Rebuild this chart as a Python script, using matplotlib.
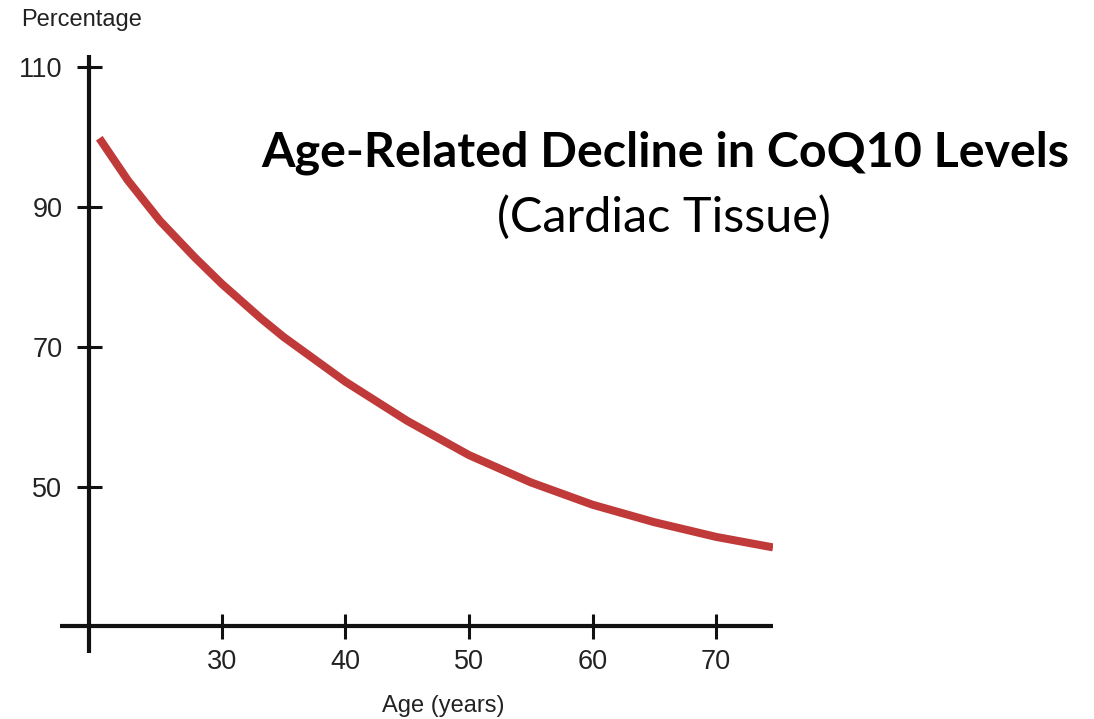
import matplotlib
matplotlib.use("Agg")
import matplotlib.pyplot as plt

# values
ages = [20.1, 22.4, 25, 27.8, 30, 33.2, 35, 40, 45, 50, 55, 60, 65, 70, 74.6]
coq10_pct = [99.8, 93.8, 88.0, 82.8, 79.0, 74.0, 71.4, 65.0, 59.4, 54.5,
             50.6, 47.4, 44.9, 42.8, 41.3]

x_ticks = [30, 40, 50, 60, 70]
y_ticks = [50, 70, 90, 110]

title = "Age-Related Decline in CoQ10 Levels"
subtitle = "(Cardiac Tissue)"

LINE_RED = "#C13A3A"
INK = "#111111"
LABEL_FONT = ["Liberation Sans", "DejaVu Sans"]
TITLE_FONT = ["Lato", "DejaVu Sans"]

fig = plt.figure(figsize=(10.94, 7.19), dpi=100)
ax = fig.add_axes([60 / 1094, 1 - 653 / 719, 713 / 1094, 598 / 719])
ax.patch.set_alpha(0)

ax.plot(ages, coq10_pct, color=LINE_RED, lw=5.8, solid_capstyle="butt",
        solid_joinstyle="round", zorder=3)

ax.set_xlim(16.92, 74.6)
ax.set_ylim(26.2, 111.7)

# crossing axis lines
for side in ("top", "right"):
    ax.spines[side].set_visible(False)
ax.spines["left"].set_position(("data", 19.29))
ax.spines["bottom"].set_position(("data", 30))
for side in ("left", "bottom"):
    ax.spines[side].set_linewidth(3.0)
    ax.spines[side].set_color(INK)
    ax.spines[side].set_capstyle("butt")

ax.set_xticks(x_ticks)
ax.set_yticks(y_ticks)
ax.tick_params(axis="both", direction="inout", length=18, width=2.2,
               color=INK, labelsize=19.5, labelcolor="#222222")
ax.tick_params(axis="y", pad=10.4)
ax.tick_params(axis="x", pad=7.0)
for lab in ax.get_xticklabels() + ax.get_yticklabels():
    lab.set_family(LABEL_FONT)

ax.set_xlabel("Age (years)", fontsize=17, family=LABEL_FONT, color="#222222", va="center")
ax.xaxis.set_label_coords(0.537, -0.0886)
ax.set_ylabel("Percentage", fontsize=17, family=LABEL_FONT, color="#222222",
              rotation=0, ha="left", va="center")
ax.yaxis.set_label_coords(-0.0547, 1.0585)

fig.text(665 / 1094, 1 - 153 / 719, title, fontsize=34.8, fontweight="bold",
         family=TITLE_FONT, ha="center", va="center", color="black")
fig.text(664 / 1094, 1 - 217 / 719, subtitle, fontsize=35,
         family=TITLE_FONT, ha="center", va="center", color="black")

fig.savefig("out.png", dpi=100, facecolor="white")
